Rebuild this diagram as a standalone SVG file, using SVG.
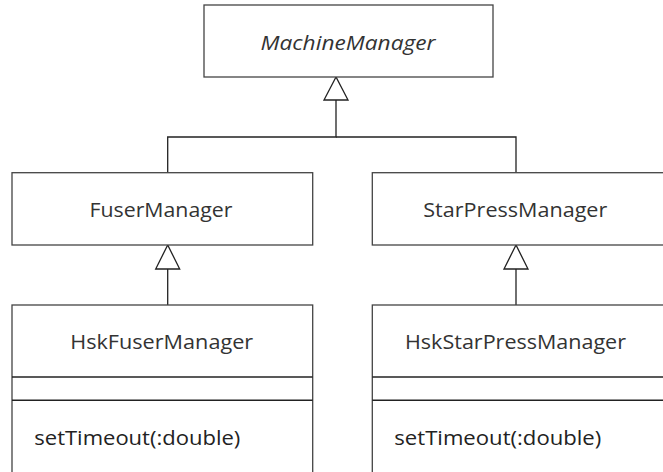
<svg xmlns="http://www.w3.org/2000/svg" width="663" height="472" viewBox="0 0 663 472">
<defs>
<style>
.box{fill:#fff;stroke:#444;stroke-width:1.3}
.div{stroke:#222;stroke-width:1.6}
.lbl{font-family:"Open Sans","Liberation Sans",sans-serif;font-size:20px;fill:#333;text-anchor:middle}
.op{font-family:"Open Sans","Liberation Sans",sans-serif;font-size:20px;fill:#222}
.it{font-style:italic}
.conn{fill:none;stroke:#222;stroke-width:1.3}
.tri{fill:#fff;stroke:#222;stroke-width:1.3}
</style>
</defs>
<rect width="663" height="472" fill="#fff"/>
<g id="connectors">
<polyline class="conn" points="336,100 336,137 167.7,137 167.7,172.7"/>
<polyline class="conn" points="336,137 516,137 516,172.7"/>
<polygon class="tri" points="336,77 324,100 348,100"/>
<line class="conn" x1="167.7" y1="269" x2="167.7" y2="305"/>
<polygon class="tri" points="167.7,245 155.7,269 179.7,269"/>
<line class="conn" x1="516" y1="269" x2="516" y2="305"/>
<polygon class="tri" points="516,245 504,269 528,269"/>
</g>
<g id="MachineManager">
<rect class="box" x="204" y="5" width="289" height="72"/>
<text class="lbl it" x="348" y="50" textLength="175" lengthAdjust="spacingAndGlyphs">MachineManager</text>
</g>
<g id="FuserManager">
<rect class="box" x="12" y="172.7" width="300.7" height="72.3"/>
<text class="lbl" x="161" y="217" textLength="143" lengthAdjust="spacingAndGlyphs">FuserManager</text>
</g>
<g id="StarPressManager">
<rect class="box" x="372.3" y="172.7" width="300.7" height="72.3"/>
<text class="lbl" x="515.3" y="217" textLength="184" lengthAdjust="spacingAndGlyphs">StarPressManager</text>
</g>
<g id="HskFuserManager">
<rect class="box" x="12" y="305" width="300.7" height="180"/>
<line class="div" x1="12" y1="377" x2="312.7" y2="377"/>
<line class="div" x1="12" y1="400.3" x2="312.7" y2="400.3"/>
<text class="lbl" x="161.7" y="349.3" textLength="183" lengthAdjust="spacingAndGlyphs">HskFuserManager</text>
<text class="op" x="34.3" y="445" textLength="206" lengthAdjust="spacingAndGlyphs">setTimeout(:double)</text>
</g>
<g id="HskStarPressManager">
<rect class="box" x="372.3" y="305" width="300.7" height="180"/>
<line class="div" x1="372.3" y1="377" x2="673" y2="377"/>
<line class="div" x1="372.3" y1="400.3" x2="673" y2="400.3"/>
<text class="lbl" x="515.5" y="349.3" textLength="221" lengthAdjust="spacingAndGlyphs">HskStarPressManager</text>
<text class="op" x="394.3" y="445" textLength="207" lengthAdjust="spacingAndGlyphs">setTimeout(:double)</text>
</g>
</svg>
